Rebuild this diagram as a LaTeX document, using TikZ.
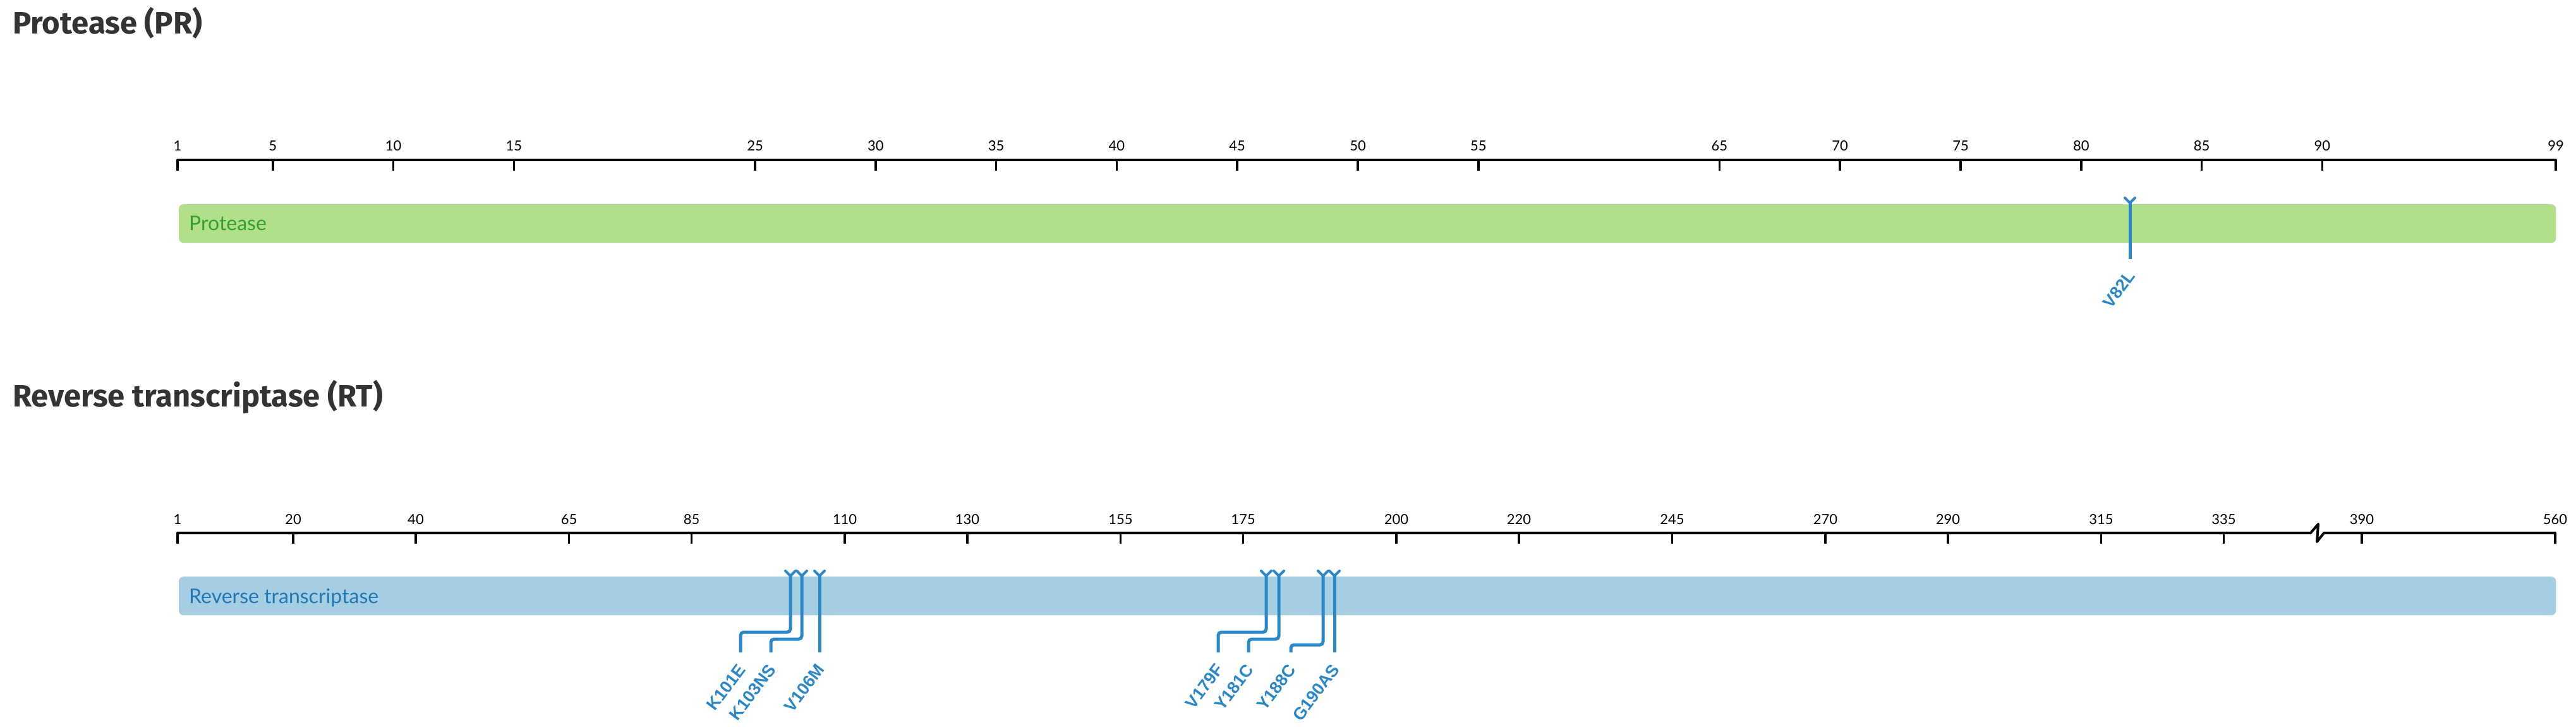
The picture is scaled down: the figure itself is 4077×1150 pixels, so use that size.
\documentclass[tikz,border=0pt]{standalone}
\usepackage{fontspec}
\newfontfamily\titlefont{Fira Sans}
\newfontfamily\tickfont{Lato}
\newfontfamily\mutfont{Liberation Sans}
\definecolor{headgray}{HTML}{333333}
\definecolor{prgreen}{HTML}{B2DF8A}
\definecolor{prtext}{HTML}{33A02C}
\definecolor{rtblue}{HTML}{A6CEE3}
\definecolor{rttext}{HTML}{1F78B4}
\definecolor{mutblue}{HTML}{2A88C8}
\tikzset{
  axisline/.style={line width=4pt, black, line join=round},
  tickmark/.style={line width=3.5pt, black},
  ticklabel/.style={font=\tickfont\fontsize{22}{24}\selectfont, anchor=base, inner sep=0pt},
  heading/.style={font=\titlefont\bfseries\fontsize{49}{52}\selectfont, text=headgray, anchor=base west, inner sep=0pt},
  barbox/.style={rounded corners=7pt, minimum width=3762pt, minimum height=61pt, anchor=north west, inner sep=0pt},
  barlabel/.style={font=\tickfont\fontsize{32}{36}\selectfont, anchor=base west, inner sep=0pt},
  mutline/.style={line width=5pt, mutblue, rounded corners=5pt},
  mutfork/.style={line width=4pt, mutblue, line cap=round, line join=round},
  mutlabel/.style={font=\mutfont\bfseries\fontsize{27}{29}\selectfont, text=mutblue, rotate=53, anchor=east, inner sep=0pt},
}
\begin{document}
\begin{tikzpicture}[x=1pt, y=-1pt]
\useasboundingbox (0,0) rectangle (4077,1150);

% ---------- Protease ----------
\node[heading] (prtitle) at (20,54) {Protease (PR)};

\coordinate (pra) at (281,253);
\coordinate (prb) at (4045,253);
\draw[axisline] (281,270) -- (pra) -- (prb) -- (4045,270);
\node[ticklabel] (pr-t1) at (281,239) {1};
\node[ticklabel] (pr-t99) at (4045,239) {99};
\foreach \p in {5,10,15,25,30,35,40,45,50,55,65,70,75,80,85,90}{
  \pgfmathsetmacro\xx{241+38.16*\p}
  \draw[tickmark] (\xx,253) -- (\xx,270);
  \node[ticklabel] (pr-t\p) at (\xx,239) {\p};
}

\node[barbox, fill=prgreen] (prbar) at (283,323) {};
\node[barlabel, text=prtext] (prbarlab) at (299,364) {Protease};

\coordinate (v82-top) at (3371,321);
\coordinate (v82-end) at (3371,410);
\draw[mutfork] (3363,313) -- (v82-top) -- (3379,313);
\draw[mutline] (v82-top) -- (v82-end);
\node[mutlabel] (v82-lab) at (3373,432) {V82L};

% ---------- Reverse transcriptase ----------
\node[heading] (rttitle) at (20,643) {Reverse transcriptase (RT)};

\coordinate (rta) at (281,843);
\coordinate (rtb) at (4044,843);
\draw[axisline] (281,860) -- (rta) -- (3657,843) -- (3669,829) -- (3667,857) -- (3678,843) -- (rtb) -- (4044,860);
\node[ticklabel] (rt-t1) at (281,829) {1};
\node[ticklabel] (rt-t560) at (4044,829) {560};
\draw[tickmark] (3738,843) -- (3738,860);
\node[ticklabel] (rt-t390) at (3738,829) {390};
\foreach \p in {20,40,65,85,110,130,155,175,200,220,245,270,290,315,335}{
  \pgfmathsetmacro\xx{270+9.7*\p}
  \draw[tickmark] (\xx,843) -- (\xx,860);
  \node[ticklabel] (rt-t\p) at (\xx,829) {\p};
}

\node[barbox, fill=rtblue] (rtbar) at (283,912) {};
\node[barlabel, text=rttext] (rtbarlab) at (299,954) {Reverse transcriptase};

\foreach \nm/\x/\ey/\xe/\lab in {k101/1251/1000/1172/K101E, k103/1269/1011/1220/K103NS, v179/2004/1000/1928/V179F, y181/2024/1011/1976/Y181C, y188/2094/1020/2043/Y188C}{
  \coordinate (\nm-top) at (\x,911);
  \coordinate (\nm-end) at (\xe,1032);
  \draw[mutfork] (\x-8,903) -- (\nm-top) -- (\x+8,903);
  \draw[mutline] (\nm-top) -- (\x,\ey) -- (\xe,\ey) -- (\nm-end);
  \node[mutlabel] (\nm-lab) at (\xe+2,1054) {\lab};
}
\foreach \nm/\x/\lab in {v106/1297/V106M, g190/2112/G190AS}{
  \coordinate (\nm-top) at (\x,911);
  \coordinate (\nm-end) at (\x,1032);
  \draw[mutfork] (\x-8,903) -- (\nm-top) -- (\x+8,903);
  \draw[mutline] (\nm-top) -- (\nm-end);
  \node[mutlabel] (\nm-lab) at (\x+2,1054) {\lab};
}
\end{tikzpicture}
\end{document}
